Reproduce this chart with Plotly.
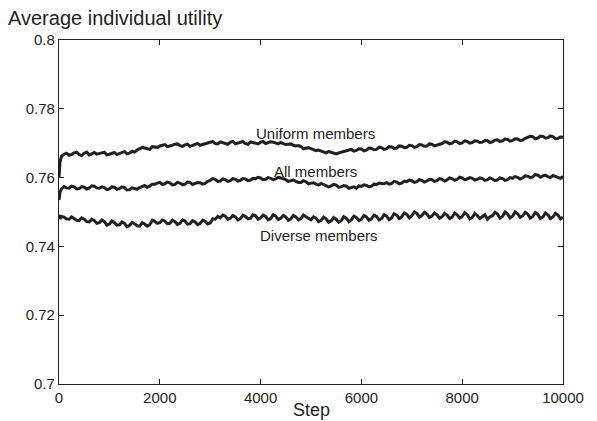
import plotly.graph_objects as go

steps = [0, 20] + list(range(50, 10001, 50))

uniform_members = [
    0.7600, 0.7645,
    0.7662, 0.7668, 0.7671, 0.7665, 0.7667, 0.7672, 0.7674, 0.7667, 0.7664, 0.7671,
    0.7674, 0.7666, 0.7669, 0.7673, 0.7668, 0.7669, 0.7672, 0.7674, 0.7666, 0.7668,
    0.7671, 0.7673, 0.7667, 0.7670, 0.7674, 0.7676, 0.7669, 0.7671, 0.7677, 0.7674,
    0.7680, 0.7683, 0.7688, 0.7686, 0.7683, 0.7682, 0.7690, 0.7689, 0.7688, 0.7692,
    0.7695, 0.7696, 0.7690, 0.7691, 0.7694, 0.7697, 0.7698, 0.7693, 0.7691, 0.7695,
    0.7697, 0.7691, 0.7693, 0.7697, 0.7699, 0.7694, 0.7696, 0.7699, 0.7701, 0.7703,
    0.7705, 0.7699, 0.7698, 0.7704, 0.7702, 0.7700, 0.7697, 0.7703, 0.7705, 0.7698,
    0.7700, 0.7702, 0.7705, 0.7699, 0.7697, 0.7704, 0.7702, 0.7700, 0.7698, 0.7703,
    0.7705, 0.7699, 0.7701, 0.7704, 0.7703, 0.7700, 0.7698, 0.7702, 0.7699, 0.7696,
    0.7697, 0.7698, 0.7694, 0.7692, 0.7693, 0.7690, 0.7684, 0.7686, 0.7687, 0.7684,
    0.7681, 0.7678, 0.7680, 0.7677, 0.7674, 0.7672, 0.7676, 0.7674, 0.7671, 0.7669,
    0.7672, 0.7673, 0.7676, 0.7678, 0.7681, 0.7682, 0.7677, 0.7679, 0.7684, 0.7683,
    0.7678, 0.7680, 0.7686, 0.7685, 0.7681, 0.7682, 0.7688, 0.7687, 0.7682, 0.7684,
    0.7690, 0.7689, 0.7685, 0.7686, 0.7692, 0.7691, 0.7687, 0.7688, 0.7694, 0.7693,
    0.7688, 0.7690, 0.7696, 0.7695, 0.7691, 0.7692, 0.7698, 0.7697, 0.7692, 0.7694,
    0.7697, 0.7699, 0.7704, 0.7703, 0.7698, 0.7700, 0.7706, 0.7704, 0.7699, 0.7701,
    0.7707, 0.7705, 0.7700, 0.7702, 0.7707, 0.7706, 0.7702, 0.7703, 0.7708, 0.7707,
    0.7702, 0.7704, 0.7709, 0.7710, 0.7705, 0.7707, 0.7712, 0.7711, 0.7706, 0.7708,
    0.7713, 0.7712, 0.7708, 0.7709, 0.7714, 0.7716, 0.7720, 0.7719, 0.7713, 0.7715,
    0.7721, 0.7720, 0.7715, 0.7716, 0.7721, 0.7719, 0.7713, 0.7714, 0.7718, 0.7717,
]

all_members = [
    0.7535, 0.7558,
    0.7567, 0.7574, 0.7570, 0.7569, 0.7575, 0.7573, 0.7567, 0.7568, 0.7574, 0.7572,
    0.7567, 0.7570, 0.7576, 0.7575, 0.7570, 0.7569, 0.7573, 0.7571, 0.7565, 0.7567,
    0.7573, 0.7572, 0.7566, 0.7568, 0.7573, 0.7571, 0.7564, 0.7565, 0.7570, 0.7569,
    0.7566, 0.7571, 0.7575, 0.7577, 0.7572, 0.7575, 0.7581, 0.7581, 0.7584, 0.7586,
    0.7580, 0.7582, 0.7587, 0.7585, 0.7579, 0.7580, 0.7586, 0.7584, 0.7579, 0.7581,
    0.7587, 0.7586, 0.7580, 0.7582, 0.7586, 0.7585, 0.7581, 0.7583, 0.7589, 0.7592,
    0.7597, 0.7595, 0.7589, 0.7590, 0.7596, 0.7594, 0.7589, 0.7591, 0.7597, 0.7595,
    0.7590, 0.7592, 0.7597, 0.7596, 0.7591, 0.7593, 0.7598, 0.7597, 0.7601, 0.7599,
    0.7594, 0.7595, 0.7600, 0.7598, 0.7594, 0.7596, 0.7601, 0.7599, 0.7597, 0.7594,
    0.7589, 0.7591, 0.7593, 0.7589, 0.7586, 0.7586, 0.7591, 0.7588, 0.7582, 0.7584,
    0.7585, 0.7581, 0.7578, 0.7583, 0.7580, 0.7578, 0.7573, 0.7576, 0.7580, 0.7578,
    0.7572, 0.7573, 0.7577, 0.7575, 0.7569, 0.7571, 0.7573, 0.7569, 0.7576, 0.7574,
    0.7579, 0.7577, 0.7573, 0.7575, 0.7581, 0.7580, 0.7584, 0.7583, 0.7582, 0.7586,
    0.7581, 0.7583, 0.7589, 0.7587, 0.7582, 0.7584, 0.7590, 0.7588, 0.7593, 0.7591,
    0.7586, 0.7588, 0.7594, 0.7592, 0.7587, 0.7590, 0.7595, 0.7594, 0.7589, 0.7591,
    0.7597, 0.7595, 0.7590, 0.7593, 0.7599, 0.7597, 0.7592, 0.7595, 0.7601, 0.7599,
    0.7594, 0.7596, 0.7600, 0.7598, 0.7593, 0.7595, 0.7599, 0.7597, 0.7592, 0.7594,
    0.7599, 0.7596, 0.7591, 0.7593, 0.7599, 0.7597, 0.7592, 0.7594, 0.7600, 0.7598,
    0.7603, 0.7601, 0.7596, 0.7599, 0.7605, 0.7604, 0.7600, 0.7602, 0.7609, 0.7607,
    0.7601, 0.7605, 0.7607, 0.7603, 0.7600, 0.7606, 0.7604, 0.7601, 0.7598, 0.7603,
]

diverse_members = [
    0.7492, 0.7480,
    0.7487, 0.7485, 0.7480, 0.7479, 0.7486, 0.7482, 0.7476, 0.7475, 0.7483, 0.7479,
    0.7472, 0.7471, 0.7479, 0.7475, 0.7467, 0.7469, 0.7477, 0.7472, 0.7462, 0.7465,
    0.7474, 0.7469, 0.7462, 0.7463, 0.7471, 0.7467, 0.7457, 0.7461, 0.7470, 0.7466,
    0.7460, 0.7459, 0.7469, 0.7465, 0.7459, 0.7463, 0.7476, 0.7473, 0.7467, 0.7469,
    0.7477, 0.7474, 0.7466, 0.7467, 0.7476, 0.7472, 0.7464, 0.7467, 0.7477, 0.7474,
    0.7465, 0.7466, 0.7475, 0.7471, 0.7463, 0.7467, 0.7476, 0.7473, 0.7465, 0.7468,
    0.7480, 0.7479, 0.7487, 0.7483, 0.7491, 0.7488, 0.7479, 0.7482, 0.7490, 0.7486,
    0.7477, 0.7481, 0.7491, 0.7487, 0.7480, 0.7482, 0.7492, 0.7489, 0.7479, 0.7483,
    0.7491, 0.7487, 0.7477, 0.7481, 0.7492, 0.7488, 0.7478, 0.7482, 0.7490, 0.7486,
    0.7476, 0.7480, 0.7490, 0.7486, 0.7477, 0.7481, 0.7491, 0.7486, 0.7482, 0.7477,
    0.7486, 0.7482, 0.7472, 0.7475, 0.7485, 0.7480, 0.7470, 0.7474, 0.7484, 0.7479,
    0.7470, 0.7475, 0.7486, 0.7482, 0.7472, 0.7477, 0.7488, 0.7484, 0.7475, 0.7479,
    0.7490, 0.7486, 0.7476, 0.7480, 0.7491, 0.7487, 0.7477, 0.7481, 0.7492, 0.7488,
    0.7478, 0.7483, 0.7495, 0.7491, 0.7481, 0.7486, 0.7497, 0.7493, 0.7483, 0.7489,
    0.7500, 0.7496, 0.7485, 0.7490, 0.7499, 0.7494, 0.7484, 0.7488, 0.7497, 0.7492,
    0.7482, 0.7486, 0.7496, 0.7491, 0.7481, 0.7485, 0.7497, 0.7492, 0.7482, 0.7487,
    0.7498, 0.7492, 0.7480, 0.7484, 0.7496, 0.7490, 0.7481, 0.7486, 0.7492, 0.7479,
    0.7486, 0.7489, 0.7499, 0.7494, 0.7482, 0.7487, 0.7500, 0.7494, 0.7483, 0.7488,
    0.7500, 0.7495, 0.7484, 0.7489, 0.7499, 0.7494, 0.7482, 0.7487, 0.7498, 0.7493,
    0.7481, 0.7485, 0.7497, 0.7492, 0.7481, 0.7486, 0.7496, 0.7491, 0.7480, 0.7485,
]

series_names = ["Uniform members", "All members", "Diverse members"]
label_steps = [5080, 5080, 5150]
label_values = [0.7729, 0.7619, 0.7433]

x_ticks = [0, 2000, 4000, 6000, 8000, 10000]
y_ticks = [0.7, 0.72, 0.74, 0.76, 0.78, 0.8]
y_tick_text = ["0.7", "0.72", "0.74", "0.76", "0.78", "0.8"]

FONT = "Liberation Sans, Arial, Helvetica, sans-serif"
INK = "#231f20"

fig = go.Figure()
for name, vals in zip(series_names, [uniform_members, all_members, diverse_members]):
    fig.add_trace(go.Scatter(x=steps, y=vals, mode="lines", name=name,
                             line=dict(color=INK, width=3.0), showlegend=False))

for name, xs, ys in zip(series_names, label_steps, label_values):
    fig.add_annotation(x=xs, y=ys, text=name, showarrow=False,
                       font=dict(family=FONT, size=15, color=INK),
                       xanchor="center", yanchor="middle")

fig.add_annotation(xref="paper", yref="paper", x=0.5, y=-0.077, text="Step",
                   showarrow=False, font=dict(family=FONT, size=18, color=INK),
                   xanchor="center", yanchor="middle")

axis_common = dict(showline=True, linecolor=INK, linewidth=1.3, mirror="ticks",
                   ticks="inside", ticklen=5, tickwidth=1, tickcolor=INK,
                   showgrid=False, zeroline=False,
                   tickfont=dict(family=FONT, size=15, color=INK))

fig.update_xaxes(range=[0, 10000], tickvals=x_ticks, ticktext=[str(v) for v in x_ticks],
                 **axis_common)
fig.update_yaxes(range=[0.7, 0.8], tickvals=y_ticks, ticktext=y_tick_text, **axis_common)

fig.update_layout(
    width=589, height=413,
    margin=dict(l=51, r=34, t=32, b=37),
    paper_bgcolor="white", plot_bgcolor="white",
    title=dict(text="Average individual utility", x=0.0, xanchor="left",
               y=0.976, yanchor="middle",
               font=dict(family=FONT, size=20, color=INK)),
)

fig.write_html("out.html")
